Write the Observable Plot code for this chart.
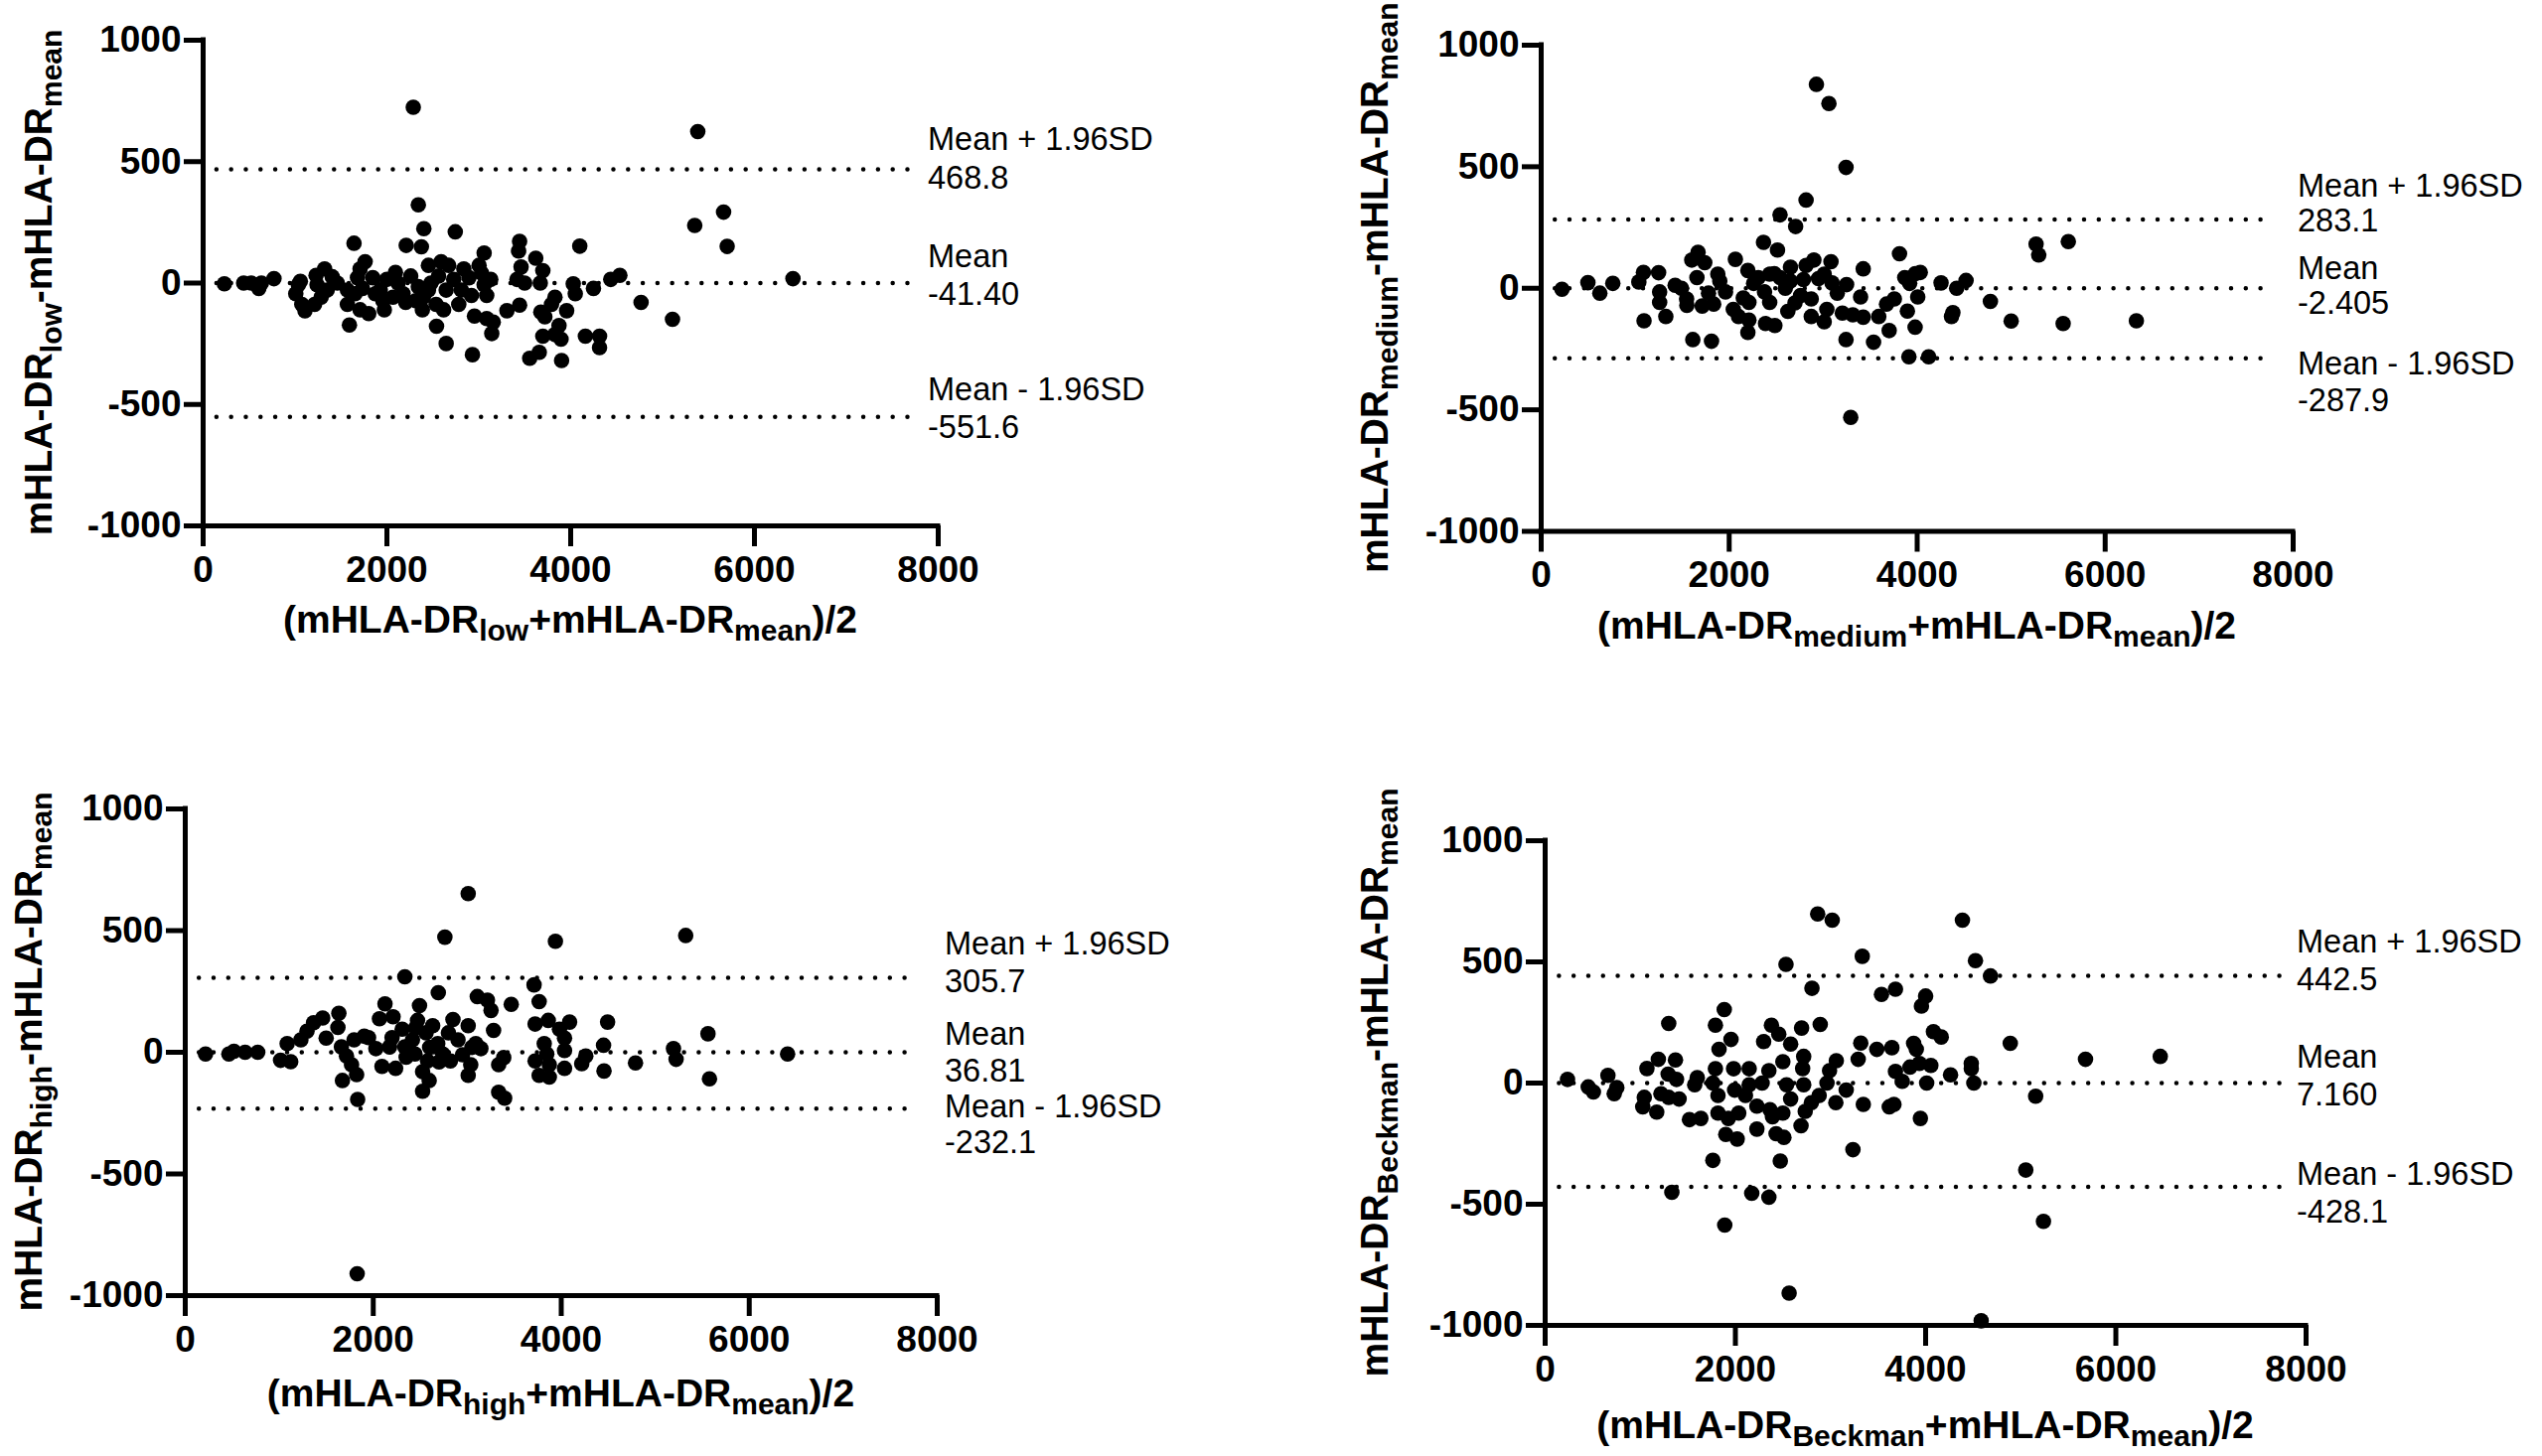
<!DOCTYPE html>
<html><head><meta charset="utf-8">
<script src="https://cdn.jsdelivr.net/npm/d3@7"></script>
<script src="https://cdn.jsdelivr.net/npm/@observablehq/plot@0.6"></script>
<style>
html,body{margin:0;padding:0;background:#fff;}
#wrap{position:relative;width:2559px;height:1466px;overflow:hidden;background:#fff;}
.panel{position:absolute;}
.panel svg{overflow:visible;}
</style></head><body><div id="wrap"></div>
<script>
const xTicks = [0, 2000, 4000, 6000, 8000];
const yTicks = [-1000, -500, 0, 500, 1000];

// [ (A+B)/2 , A-B ] pairs
const lowPoints = [[2287,724],[5383,624],[2342,322],[5664,292],[5350,237],[5703,151],[2402,224],[2744,211],[1642,164],[2210,155],[2375,149],[4099,152],[3058,124],[3444,172],[3433,132],[3460,66],[3620,102],[3697,51],[3669,0],[3003,73],[6419,18],[4535,32],[4436,15],[4248,-22],[4028,-3],[4050,-44],[4766,-80],[5108,-149],[3956,-114],[3829,-58],[3791,-88],[3675,-120],[3719,-139],[3873,-175],[3697,-219],[3829,-212],[3895,-231],[4160,-219],[4314,-219],[4314,-266],[3658,-285],[3554,-310],[3901,-319],[2931,-295],[2645,-249],[2540,-178],[2953,-136],[3086,-146],[3157,-161],[3141,-208],[3306,-114],[3444,-91],[1592,-173],[1802,-126],[1972,-110],[1708,-110],[1570,-88],[1108,-114],[1074,-88],[1008,-44],[1036,-7],[1058,7],[771,18],[634,0],[606,-22],[523,0],[441,0],[231,-3],[1240,-7],[1229,32],[1322,58],[1405,26],[1350,-29],[1284,-58],[1213,-88],[1460,0],[1570,-29],[1680,22],[1708,58],[1763,88],[1735,-22],[1846,22],[1873,-44],[1999,15],[1956,-73],[2093,44],[2121,0],[2176,-44],[2259,29],[2342,-15],[2397,-58],[2386,-110],[2452,73],[2479,0],[2535,-88],[2590,88],[2617,-110],[2672,73],[2645,-29],[2727,15],[2782,-88],[2810,-29],[2893,22],[2920,-51],[3058,-7],[3086,-51],[3130,15],[3030,41],[3416,15],[3499,0],[2837,58],[2562,29],[2452,-29],[2314,-73],[2204,-80],[2066,-58],[1928,-29],[1653,-44]];

const mediumPoints = [[2928,839],[3061,760],[3243,497],[2818,363],[2541,302],[2707,254],[2365,189],[2514,157],[5265,182],[5293,137],[5608,192],[3812,142],[1669,148],[1602,116],[1740,105],[2066,119],[2199,73],[1088,65],[1249,64],[762,20],[497,23],[624,-20],[221,-4],[1039,26],[1425,12],[1260,-15],[1260,-58],[1326,-116],[1094,-134],[1613,-211],[1812,-218],[1547,-44],[1657,44],[1713,-73],[1879,58],[1835,-65],[1961,-15],[2044,-87],[2099,-116],[2210,-131],[2199,-182],[2310,44],[2376,-15],[2387,-145],[2486,-153],[2431,-58],[2541,44],[2652,87],[2597,0],[2624,-95],[2790,36],[2818,94],[2901,116],[2873,-44],[2873,-116],[3039,-87],[3011,-138],[3083,109],[3094,22],[3204,-102],[3249,15],[3315,-109],[3398,-36],[3426,80],[3426,-119],[3591,-116],[3674,-65],[3757,-44],[3702,-174],[3243,-211],[3536,-222],[3896,-94],[3978,-160],[4006,-36],[3868,44],[4033,65],[4254,22],[4420,0],[4520,32],[4779,-54],[4365,-116],[5000,-135],[5553,-145],[6332,-134],[3912,-282],[4122,-282],[3293,-531],[1492,0],[2210,-58],[2431,58],[3011,58],[2260,20],[2480,60],[2650,30],[2760,-30],[2950,40],[3150,-20],[1900,30],[1780,-20],[2150,-40],[2700,-60],[1550,-70],[3920,20],[3980,60],[4380,-100]];

const highPoints = [[3010,652],[2762,473],[3938,456],[5324,480],[2336,310],[3711,277],[2692,245],[3765,208],[3107,229],[3215,214],[3253,172],[3468,197],[2125,199],[2492,192],[1634,160],[1462,141],[1365,121],[1295,87],[1230,51],[1084,36],[1014,-33],[1122,-39],[771,0],[637,0],[518,4],[464,-7],[216,-7],[1499,58],[1624,102],[1661,22],[1715,-15],[1769,-51],[1672,-116],[1823,-92],[1834,-194],[1829,-910],[1796,51],[1904,66],[2028,15],[2066,138],[2093,-58],[2174,22],[2211,146],[2238,-66],[2308,95],[2336,22],[2417,51],[2444,-7],[2471,131],[2525,-80],[2525,-160],[2578,-36],[2595,-116],[2562,80],[2632,109],[2686,36],[2740,-7],[2821,-36],[2848,135],[2902,51],[3010,109],[3037,-51],[3010,-95],[3091,36],[3145,15],[3280,90],[3334,-51],[3388,-22],[3334,-164],[3398,-189],[3722,116],[3862,131],[3981,95],[4089,124],[4035,58],[3819,36],[3846,-7],[3722,-36],[3873,-51],[3765,-95],[3873,-102],[4035,-66],[4035,7],[4261,-15],[4218,-47],[4450,29],[4493,124],[4455,-77],[4790,-44],[5194,15],[5222,-29],[5561,76],[5577,-109],[6408,-7],[2200,60],[2350,-20],[2600,20],[2800,80],[2950,-10],[1950,60],[2450,100],[2700,-40],[3050,20]];

const beckmanPoints = [[2865,698],[3018,672],[4387,672],[3334,523],[4524,505],[2532,490],[4682,442],[2805,391],[3536,366],[3683,387],[4000,359],[3956,318],[1883,303],[1299,246],[1790,239],[2892,242],[2379,239],[2456,202],[2696,227],[1954,180],[2297,171],[2581,161],[3318,165],[4082,212],[4164,190],[4890,164],[3874,164],[3902,139],[1828,139],[3487,139],[3645,146],[5681,98],[6467,110],[2718,110],[3291,98],[3061,92],[2499,88],[1190,98],[1370,95],[1070,60],[1790,59],[1981,59],[2145,59],[2352,51],[2707,60],[2990,51],[1293,37],[3935,81],[4055,73],[4480,81],[4480,59],[4262,34],[3683,48],[3836,66],[3754,7],[4011,0],[4507,0],[660,32],[235,15],[453,-16],[507,-37],[753,-19],[726,-44],[1042,-59],[1026,-98],[1173,-120],[1217,-44],[1299,-59],[1381,15],[1408,-66],[1599,22],[1517,-151],[1637,-146],[1572,-7],[1763,0],[1817,-51],[1817,-124],[1926,-146],[1899,-212],[2019,-231],[1992,-29],[2035,-124],[2106,-51],[2145,-7],[2226,-95],[2226,-190],[2281,0],[2363,-110],[2390,-139],[2428,-209],[2510,-224],[2472,-322],[2499,-124],[2538,-7],[2581,-66],[2718,-7],[2690,-176],[2734,-117],[2799,-81],[2881,-51],[2963,0],[3056,-81],[3165,-29],[3236,-275],[3345,-88],[3618,-98],[3667,-88],[3945,-146],[5157,-54],[5053,-359],[5239,-571],[1763,-319],[1332,-451],[2172,-455],[2352,-471],[1888,-586],[2565,-867],[4584,-981]];

// dotted reference lines (as drawn: upper limit, mean line, lower limit)
const lowLines = [468.8, 0, -551.6];
const mediumLines = [283.1, 0, -287.9];
const highLines = [305.7, 0, -232.1];
const beckmanLines = [442.5, 0, -428.1];

const lowLabels = [["Mean + 1.96SD", "468.8"], ["Mean", "-41.40"], ["Mean - 1.96SD", "-551.6"]];
const mediumLabels = [["Mean + 1.96SD", "283.1"], ["Mean", "-2.405"], ["Mean - 1.96SD", "-287.9"]];
const highLabels = [["Mean + 1.96SD", "305.7"], ["Mean", "36.81"], ["Mean - 1.96SD", "-232.1"]];
const beckmanLabels = [["Mean + 1.96SD", "442.5"], ["Mean", "7.160"], ["Mean - 1.96SD", "-428.1"]];

const subscripts = ["low", "medium", "high", "Beckman"];

const layouts = [
  {left:0, top:0, width:1280, height:733, ml:204, mt:40, mr:336, mb:204, labelDx:-10, labelDy:[[-19,20],[-16,22],[-16,22]], yTitleDx:-152, xTitleDy:108},
  {left:1280, top:0, width:1279, height:733, ml:271, mt:45, mr:251, mb:198.5, labelDx:5, labelDy:[[-22,13],[-9,26],[16.5,53.5]], yTitleDx:-154, xTitleDy:108},
  {left:0, top:733, width:1280, height:733, ml:186, mt:81, mr:337, mb:162, labelDx:8, labelDy:[[-23.5,14.5],[-7.5,29.5],[9,45.5]], yTitleDx:-144, xTitleDy:112},
  {left:1280, top:733, width:1279, height:733, ml:275, mt:113, mr:238, mb:132, labelDx:-9, labelDy:[[-23,14.5],[-15,23],[-1.5,36.5]], yTitleDx:-158, xTitleDy:114}
];

const panels = [
  {points: lowPoints, lines: lowLines, labels: lowLabels, sub: subscripts[0], layout: layouts[0]},
  {points: mediumPoints, lines: mediumLines, labels: mediumLabels, sub: subscripts[1], layout: layouts[1]},
  {points: highPoints, lines: highLines, labels: highLabels, sub: subscripts[2], layout: layouts[2]},
  {points: beckmanPoints, lines: beckmanLines, labels: beckmanLabels, sub: subscripts[3], layout: layouts[3]}
];

const FONT = "Liberation Sans, Arial, Helvetica, sans-serif";
const wrap = document.getElementById("wrap");

function richText(sel, parts, subSize, shift) {
  let down = false;
  for (const p of parts) {
    const t = sel.append("tspan").text(p.t);
    if (p.sub) {
      t.attr("font-size", subSize);
      if (!down) { t.attr("dy", shift); down = true; }
    } else if (down) {
      t.attr("dy", -shift); down = false;
    }
  }
}

for (const P of panels) {
  const L = P.layout;
  const plot = Plot.plot({
    width: L.width, height: L.height,
    marginLeft: L.ml, marginTop: L.mt, marginRight: L.mr, marginBottom: L.mb,
    x: {domain: [0, 8000], axis: null},
    y: {domain: [-1000, 1000], axis: null},
    style: {background: "white", overflow: "visible", fontFamily: FONT, color: "black"},
    marks: [
      Plot.ruleY(P.lines, {y: d => d, x1: 150, x2: 7800, stroke: "black", strokeWidth: 4.5, strokeDasharray: "0 14.8", strokeLinecap: "round"}),
      Plot.dot(P.points, {x: d => d[0], y: d => d[1], r: 7.8, fill: "black"}),
      Plot.axisX({ticks: xTicks, tickFormat: d => String(d), tickSize: 21, tickPadding: 9, strokeWidth: 5, fontFamily: FONT, fontSize: 37, fontWeight: "bold", fill: "black", label: null}),
      Plot.axisY({ticks: yTicks, tickFormat: d => String(d), tickSize: 19, tickPadding: 3, strokeWidth: 5, fontFamily: FONT, fontSize: 37, fontWeight: "bold", fill: "black", label: null}),
      Plot.ruleX([0], {y1: -1000, y2: 1000, stroke: "black", strokeWidth: 5, strokeLinecap: "square"}),
      Plot.ruleY([-1000], {x1: 0, x2: 8000, stroke: "black", strokeWidth: 5, strokeLinecap: "square"})
    ]
  });
  const div = document.createElement("div");
  div.className = "panel";
  div.style.left = L.left + "px";
  div.style.top = L.top + "px";
  div.appendChild(plot);
  wrap.appendChild(div);

  const sx = plot.scale("x"), sy = plot.scale("y");
  const svg = d3.select(plot);
  const g = svg.append("g").attr("font-family", FONT).attr("fill", "black");

  // limit labels
  const lx = sx.apply(8000) + L.labelDx;
  P.labels.forEach((pair, i) => {
    const ly = sy.apply(P.lines[i]);
    pair.forEach((txt, j) => {
      g.append("text").attr("x", lx).attr("y", ly + L.labelDy[i][j])
        .attr("font-size", 32.5).attr("text-anchor", "start").text(txt);
    });
  });

  // x title
  const cx = (sx.apply(0) + sx.apply(8000)) / 2;
  const xt = g.append("text").attr("x", cx).attr("y", sy.apply(-1000) + L.xTitleDy)
    .attr("font-size", 39).attr("font-weight", "bold").attr("text-anchor", "middle");
  richText(xt, [{t: "(mHLA-DR"}, {t: P.sub, sub: true}, {t: "+mHLA-DR"}, {t: "mean", sub: true}, {t: ")/2"}], 30, 8);

  // y title
  const cy = (sy.apply(1000) + sy.apply(-1000)) / 2;
  const yt = g.append("text")
    .attr("transform", `translate(${sx.apply(0) + L.yTitleDx},${cy}) rotate(-90)`)
    .attr("font-size", 39).attr("font-weight", "bold").attr("text-anchor", "middle");
  richText(yt, [{t: "mHLA-DR"}, {t: P.sub, sub: true}, {t: "-mHLA-DR"}, {t: "mean", sub: true}], 30, 10);
}
</script>
</body></html>
